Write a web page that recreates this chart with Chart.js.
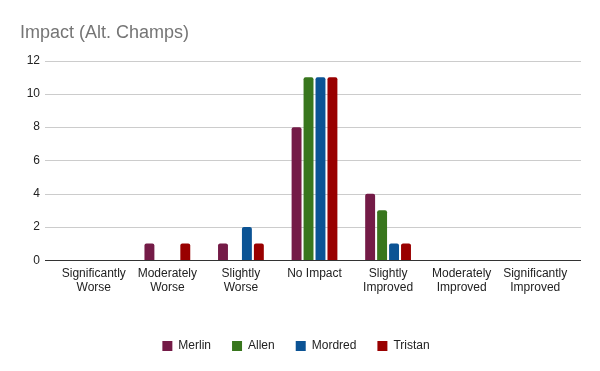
<!DOCTYPE html>
<html>
<head>
<meta charset="utf-8">
<script src="https://cdn.jsdelivr.net/npm/chart.js@4"></script>
<style>
  html, body { margin: 0; padding: 0; background: #fff; }
  #wrap { width: 600px; height: 371px; }
</style>
</head>
<body>
<div id="wrap"><canvas id="chart"></canvas></div>
<script>
const categories = [
    ["Significantly", "Worse"], ["Moderately", "Worse"], ["Slightly", "Worse"],
    ["No Impact"], ["Slightly", "Improved"], ["Moderately", "Improved"], ["Significantly", "Improved"]
];
const merlin = [0, 1, 1, 8, 4, 0, 0];
const allen = [0, 0, 0, 11, 3, 0, 0];
const mordred = [0, 0, 2, 11, 1, 0, 0];
const tristan = [0, 1, 1, 11, 1, 0, 0];
const yTicks = [0, 2, 4, 6, 8, 10, 12];

// Google-style gridlines that run a bit past the bars on both sides
const gridPlugin = {
    id: "grid",
    beforeDatasetsDraw(chart) {
        const { ctx, chartArea, scales } = chart;
        ctx.save();
        ctx.strokeStyle = "#cccccc";
        ctx.lineWidth = 1;
        yTicks.forEach(v => {
            if (v === 0) return;
            const y = Math.round(scales.y.getPixelForValue(v)) + 0.5;
            ctx.beginPath();
            ctx.moveTo(chartArea.left - 12, y);
            ctx.lineTo(chartArea.right + 9, y);
            ctx.stroke();
        });
        ctx.restore();
    },
    afterDatasetsDraw(chart) {
        const { ctx, chartArea, scales } = chart;
        const y = Math.round(scales.y.getPixelForValue(0)) + 0.5;
        ctx.save();
        ctx.strokeStyle = "#333333";
        ctx.lineWidth = 1;
        ctx.beginPath();
        ctx.moveTo(chartArea.left - 12, y);
        ctx.lineTo(chartArea.right + 9, y);
        ctx.stroke();
        ctx.restore();
    }
};

const bar = (label, data, color) => ({
    label, data,
    backgroundColor: color,
    borderRadius: { topLeft: 2, topRight: 2 },
    borderSkipped: "start",
    categoryPercentage: 0.65,
    barPercentage: 0.83
});

new Chart(document.getElementById("chart"), {
    type: "bar",
    data: {
        labels: categories,
        datasets: [
            bar("Merlin", merlin, "#741b47"),
            bar("Allen", allen, "#38761d"),
            bar("Mordred", mordred, "#0b5394"),
            bar("Tristan", tristan, "#990000")
        ]
    },
    options: {
        responsive: true,
        maintainAspectRatio: false,
        animation: false,
        layout: { padding: { left: 20, right: 28, top: 0, bottom: 9 } },
        plugins: {
            title: {
                display: true,
                text: "Impact (Alt. Champs)",
                align: "start",
                color: "#757575",
                font: { family: "Liberation Sans, Arial, sans-serif", size: 18, weight: "normal" },
                padding: { top: 22, bottom: 17 }
            },
            legend: {
                position: "bottom",
                labels: {
                    boxWidth: 10,
                    boxHeight: 10,
                    padding: 21,
                    color: "#222222",
                    font: { family: "Liberation Sans, Arial, sans-serif", size: 12 }
                }
            },
            tooltip: { enabled: false }
        },
        scales: {
            x: {
                grid: { display: false },
                border: { display: false },
                afterFit(scale) { scale.height += 26; },
                ticks: {
                    maxRotation: 0,
                    autoSkip: false,
                    padding: -2,
                    color: "#222222",
                    font: { family: "Liberation Sans, Arial, sans-serif", size: 12 }
                }
            },
            y: {
                min: 0,
                max: 12,
                grid: { display: false },
                border: { display: false },
                afterFit(scale) { scale.width = 37; },
                afterBuildTicks(scale) { scale.ticks = yTicks.map(v => ({ value: v })); },
                ticks: {
                    padding: 9,
                    color: "#222222",
                    font: { family: "Liberation Sans, Arial, sans-serif", size: 12 }
                }
            }
        }
    },
    plugins: [gridPlugin]
});
</script>
</body>
</html>
